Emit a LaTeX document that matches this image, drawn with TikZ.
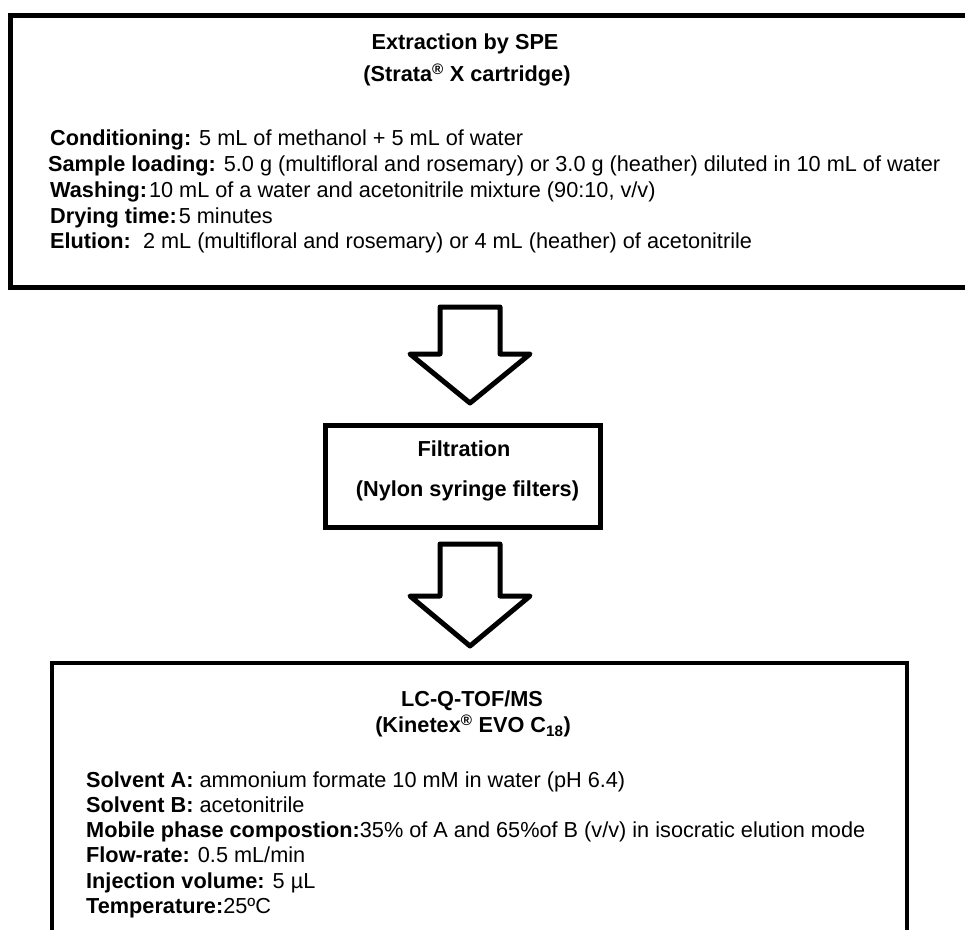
\documentclass[tikz,border=0pt]{standalone}
\usepackage{fontspec}
\setmainfont{Liberation Sans}
\newcommand\bodyfont{\fontsize{21.7}{25.5}\selectfont}
\begin{document}
\begin{tikzpicture}[x=1pt,y=-1pt,
  frame/.style={draw=black, line width=5pt},
  txt/.style={inner sep=0pt, anchor=base west, font=\bodyfont},
  ttl/.style={inner sep=0pt, anchor=base, font=\bodyfont\bfseries},
  arrowline/.style={draw=black, line width=5pt, line join=round, fill=white}]
\useasboundingbox (0,0) rectangle (965,929);
\clip (0,0) rectangle (965,929);
% boxes
\path[frame] (10,15) rectangle (985,287.5);
\node[frame, inner sep=0pt, minimum width=275pt, minimum height=102pt] (filt) at (463,476.5) {};
\path[frame, line width=4.5pt] (52,663) rectangle (907,950);
% top box texts
\node[ttl] (t1) at (465,49) {Extraction by SPE};
\node[ttl] (t2) at (467,81.7) {(Strata\textsuperscript{®} X cartridge)};
\node[txt] (c1) at (50,145.7) {\textbf{Conditioning:} 5 mL of methanol + 5 mL of water};
\node[txt] (c2) at (48,171.5) {\textbf{Sample loading:} 5.0 g (multifloral and rosemary) or 3.0 g (heather) diluted in 10 mL of water};
\node[txt] (c3) at (50,197.3) {\textbf{Washing:}\kern2pt 10 mL of a water and acetonitrile mixture (90:10, v/v)};
\node[txt] (c4) at (50,223) {\textbf{Drying time:}\kern2pt 5 minutes};
\node[txt] (c5) at (50,248.5) {\textbf{Elution:}\ \ 2 mL (multifloral and rosemary) or 4 mL (heather) of acetonitrile};
% filtration texts
\node[ttl] (f1) at (464,456.7) {Filtration};
\node[ttl] (f2) at (467.5,496.7) {(Nylon syringe filters)};
% bottom box texts
\node[ttl] (l1) at (472,706) {LC-Q-TOF/MS};
\node[ttl] (l2) at (473,732.7) {(Kinetex\textsuperscript{®} EVO C\textsubscript{18})};
\node[txt] (s1) at (86,787) {\textbf{Solvent A:} ammonium formate 10 mM in water (pH 6.4)};
\node[txt] (s2) at (86,812.7) {\textbf{Solvent B:} acetonitrile};
\node[txt] (s3) at (86,837.7) {\textbf{Mobile phase compostion:}35\% of A and 65\%of B (v/v) in isocratic elution mode};
\node[txt] (s4) at (86,862.9) {\textbf{Flow-rate:} 0.5 mL/min};
\node[txt] (s5) at (86,888.1) {\textbf{Injection volume:} 5 µL};
\node[txt] (s6) at (86,913.3) {\textbf{Temperature:}25ºC};
% block arrows
\coordinate (a1) at (470,307);
\coordinate (a2) at (470,544);
\path[arrowline] (a1) ++(-30,0) -- ++(60,0) -- ++(0,47) -- ++(30,0) -- ++(-60,49) -- ++(-60,-49) -- ++(30,0) -- cycle;
\path[arrowline] (a2) ++(-30,0) -- ++(60,0) -- ++(0,52) -- ++(30,0) -- ++(-60,50) -- ++(-60,-50) -- ++(30,0) -- cycle;
\end{tikzpicture}
\end{document}
